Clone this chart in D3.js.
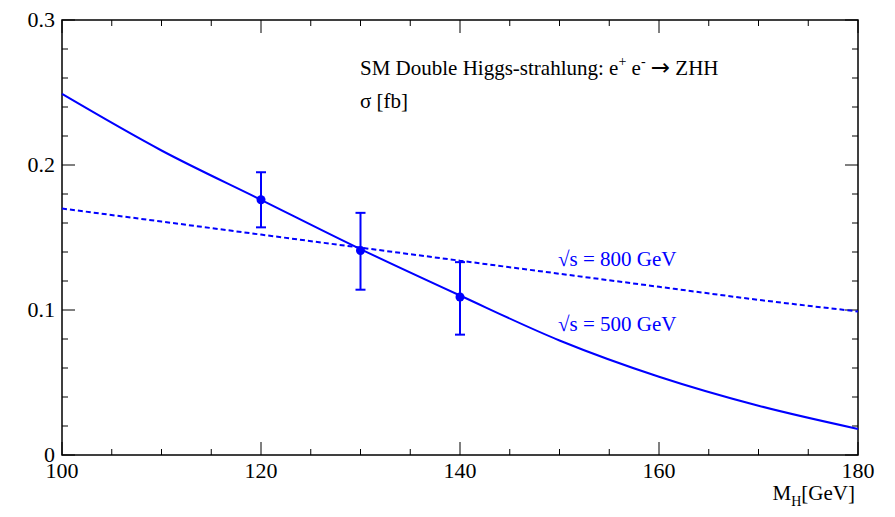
<!DOCTYPE html>
<html><head><meta charset="utf-8">
<script src="https://cdn.jsdelivr.net/npm/d3@7"></script>
<style>body{margin:0;background:#fff}svg text{font-family:"Liberation Serif","Times New Roman",serif}</style>
</head><body>
<svg id="c" width="895" height="517"></svg>
<script>
// data
const massPts = [100, 110, 120, 130, 140, 150, 160, 170, 180];
const xs500 = [0.249, 0.210, 0.176, 0.142, 0.110, 0.079, 0.054, 0.034, 0.018];
const xs800 = [0.170, 0.161, 0.152, 0.143, 0.134, 0.125, 0.116, 0.107, 0.099];
const errMass = [120, 130, 140];
const errVal = [0.176, 0.141, 0.109];
const errLo = [0.157, 0.114, 0.083];
const errHi = [0.195, 0.167, 0.133];
const xTicks = [100, 120, 140, 160, 180];
const yTicks = [0, 0.1, 0.2, 0.3];

const svg = d3.select("#c");
const L = 62, R = 858, T = 20, B = 455;
const x = d3.scaleLinear().domain([100, 180]).range([L, R]);
const y = d3.scaleLinear().domain([0, 0.3]).range([B, T]);
const blue = "#0000ff";

// frame
svg.append("rect").attr("x", L).attr("y", T).attr("width", R - L).attr("height", B - T)
  .attr("fill", "none").attr("stroke", "#000").attr("stroke-width", 1.5);

// ticks on all sides
const g = svg.append("g").attr("stroke", "#000").attr("stroke-width", 1);
d3.range(100, 180.1, 5).forEach(v => {
  const len = v % 20 === 0 ? 13 : 6;
  g.append("line").attr("x1", x(v)).attr("x2", x(v)).attr("y1", B).attr("y2", B - len);
  g.append("line").attr("x1", x(v)).attr("x2", x(v)).attr("y1", T).attr("y2", T + len);
});
d3.range(0, 0.3001, 0.02).forEach(v => {
  const len = Math.abs(v * 10 - Math.round(v * 10)) < 1e-6 ? 13 : 6;
  g.append("line").attr("x1", L).attr("x2", L + len).attr("y1", y(v)).attr("y2", y(v));
  g.append("line").attr("x1", R).attr("x2", R - len).attr("y1", y(v)).attr("y2", y(v));
});

svg.selectAll(".xl").data(xTicks).join("text").attr("x", d => x(d)).attr("y", B + 23)
  .attr("text-anchor", "middle").attr("font-size", 22).text(d => d);
svg.selectAll(".yl").data(yTicks).join("text").attr("x", L - 7).attr("y", d => y(d) + 7)
  .attr("text-anchor", "end").attr("font-size", 22).text(d => d === 0 ? "0" : d.toFixed(1));

// curves
const line = d3.line().x((d, i) => x(massPts[i])).y(d => y(d)).curve(d3.curveMonotoneX);
svg.append("path").attr("d", line(xs500)).attr("fill", "none").attr("stroke", blue).attr("stroke-width", 2);
svg.append("path").attr("d", line(xs800)).attr("fill", "none").attr("stroke", blue)
  .attr("stroke-width", 2).attr("stroke-dasharray", "5,3");

// error bars
errMass.forEach((m, i) => {
  svg.append("line").attr("x1", x(m)).attr("x2", x(m)).attr("y1", y(errLo[i])).attr("y2", y(errHi[i]))
    .attr("stroke", blue).attr("stroke-width", 2);
  [errLo[i], errHi[i]].forEach(v => svg.append("line").attr("x1", x(m) - 5).attr("x2", x(m) + 5)
    .attr("y1", y(v)).attr("y2", y(v)).attr("stroke", blue).attr("stroke-width", 2));
  svg.append("circle").attr("cx", x(m)).attr("cy", y(errVal[i])).attr("r", 4.5).attr("fill", blue);
});

// labels
const t1 = svg.append("text").attr("x", 360).attr("y", 75).attr("font-size", 21);
t1.append("tspan").text("SM Double Higgs-strahlung: e");
t1.append("tspan").attr("dy", -9).attr("font-size", 14).text("+");
t1.append("tspan").attr("dy", 9).text(" e");
t1.append("tspan").attr("dy", -9).attr("font-size", 14).text("-");
t1.append("tspan").attr("dy", 9).text("  ");
t1.append("tspan").attr("font-family", "DejaVu Sans").attr("font-size", 23).text("\u2192");
t1.append("tspan").text(" ZHH");
svg.append("text").attr("x", 360).attr("y", 108).attr("font-size", 21).text("\u03c3 [fb]");
svg.append("text").attr("x", 558).attr("y", 266).attr("font-size", 21).attr("fill", blue).text("\u221as = 800 GeV");
svg.append("text").attr("x", 558).attr("y", 331).attr("font-size", 21).attr("fill", blue).text("\u221as = 500 GeV");
const t2 = svg.append("text").attr("x", 855).attr("y", 500).attr("text-anchor", "end").attr("font-size", 21);
t2.append("tspan").text("M");
t2.append("tspan").attr("dy", 6).attr("font-size", 14).text("H");
t2.append("tspan").attr("dy", -6).text("[GeV]");
</script>
</body></html>
